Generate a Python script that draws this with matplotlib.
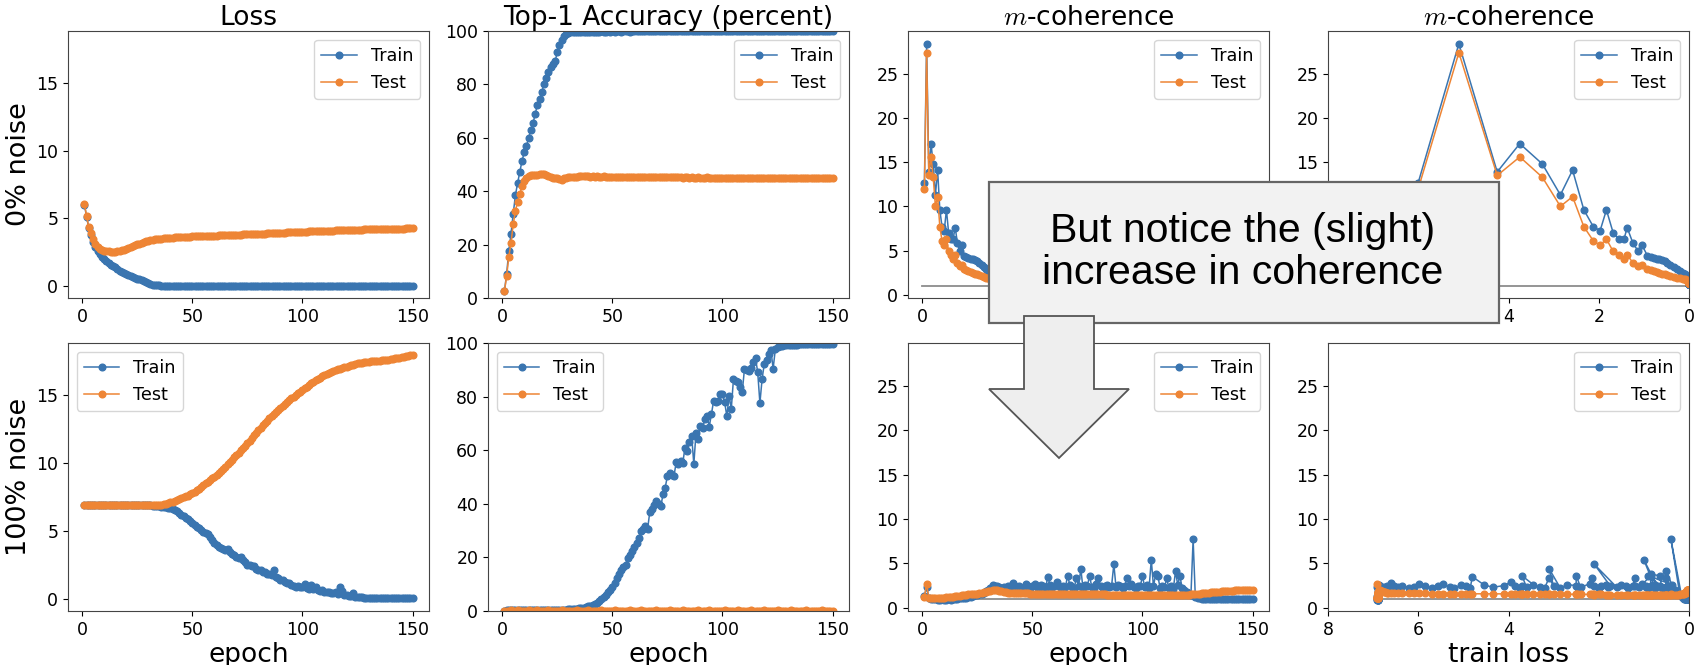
import matplotlib
matplotlib.use("Agg")
import matplotlib.pyplot as plt
from matplotlib.patches import Rectangle, Polygon

# ---------------- data ----------------
EPOCHS = list(range(1, 151))

# 0% label noise
LOSS0_TRAIN = [
    6.0, 5.1, 4.25, 3.75, 3.25, 2.85, 2.58, 2.33, 2.12, 1.97,
    1.83, 1.68, 1.55, 1.44, 1.37, 1.24, 1.12, 1.04, 0.92, 0.85,
    0.78, 0.72, 0.66, 0.6, 0.54, 0.48, 0.41, 0.34, 0.27, 0.2,
    0.14, 0.09, 0.06, 0.04, 0.03, 0.02, 0.02, 0.015, 0.012, 0.01,
    0.01, 0.01, 0.009, 0.009, 0.009, 0.008, 0.008, 0.008, 0.008, 0.007,
    0.007, 0.007, 0.007, 0.007, 0.006, 0.006, 0.006, 0.006, 0.006, 0.006,
    0.006, 0.005, 0.005, 0.005, 0.005, 0.005, 0.005, 0.005, 0.005, 0.005,
    0.005, 0.005, 0.004, 0.004, 0.004, 0.004, 0.004, 0.004, 0.004, 0.004,
    0.004, 0.004, 0.004, 0.004, 0.004, 0.004, 0.004, 0.004, 0.004, 0.004,
    0.004, 0.004, 0.004, 0.004, 0.004, 0.003, 0.003, 0.003, 0.003, 0.003,
    0.003, 0.003, 0.003, 0.003, 0.003, 0.003, 0.003, 0.003, 0.003, 0.003,
    0.003, 0.003, 0.003, 0.003, 0.003, 0.003, 0.003, 0.003, 0.003, 0.003,
    0.003, 0.003, 0.003, 0.003, 0.003, 0.002, 0.002, 0.002, 0.002, 0.002,
    0.002, 0.002, 0.002, 0.002, 0.002, 0.002, 0.002, 0.002, 0.002, 0.002,
    0.002, 0.002, 0.002, 0.002, 0.002, 0.002, 0.002, 0.002, 0.002, 0.002,
]
LOSS0_TEST = [
    6.05, 5.15, 4.35, 3.9, 3.45, 3.1, 2.9, 2.75, 2.65, 2.6,
    2.56, 2.54, 2.53, 2.52, 2.53, 2.55, 2.58, 2.62, 2.67, 2.72,
    2.78, 2.85, 2.92, 2.99, 3.06, 3.13, 3.19, 3.25, 3.3, 3.34,
    3.38, 3.41, 3.44, 3.46, 3.48, 3.5, 3.52, 3.53, 3.55, 3.56,
    3.57, 3.58, 3.59, 3.6, 3.61, 3.62, 3.62, 3.63, 3.64, 3.65,
    3.65, 3.66, 3.67, 3.67, 3.68, 3.69, 3.69, 3.7, 3.71, 3.71,
    3.72, 3.73, 3.73, 3.74, 3.75, 3.75, 3.76, 3.77, 3.77, 3.78,
    3.79, 3.79, 3.8, 3.81, 3.82, 3.82, 3.83, 3.84, 3.84, 3.85,
    3.86, 3.87, 3.87, 3.88, 3.89, 3.9, 3.9, 3.91, 3.92, 3.93,
    3.93, 3.94, 3.95, 3.96, 3.96, 3.97, 3.98, 3.99, 3.99, 4.0,
    4.01, 4.01, 4.02, 4.03, 4.03, 4.04, 4.05, 4.05, 4.06, 4.07,
    4.07, 4.08, 4.08, 4.09, 4.1, 4.1, 4.11, 4.11, 4.12, 4.13,
    4.13, 4.14, 4.14, 4.15, 4.15, 4.16, 4.16, 4.17, 4.17, 4.18,
    4.18, 4.19, 4.19, 4.2, 4.2, 4.2, 4.21, 4.21, 4.22, 4.22,
    4.22, 4.23, 4.23, 4.23, 4.24, 4.24, 4.25, 4.25, 4.25, 4.26,
]
ACC0_TRAIN = [
    2.5, 8.9, 17.6, 24.1, 31.6, 38.5, 43.1, 47.2, 51.4, 54.5,
    56.9, 60.0, 62.9, 65.4, 69.1, 72.3, 74.4, 77.3, 80.1, 82.3,
    84.8, 86.6, 87.8, 88.6, 92.0, 94.8, 96.7, 98.2, 99.0, 99.4,
    99.6, 99.7, 99.7, 99.8, 99.8, 99.8, 99.8, 99.8, 99.8, 99.8,
    99.8, 99.8, 99.8, 99.8, 99.9, 99.8, 99.8, 99.9, 99.8, 99.9,
    99.8, 99.9, 99.9, 99.8, 99.9, 99.9, 99.9, 99.8, 99.9, 99.9,
    99.9, 99.9, 99.9, 99.9, 99.9, 99.9, 99.9, 99.9, 99.9, 99.9,
    99.9, 99.9, 99.9, 99.9, 99.9, 99.9, 99.9, 99.9, 99.9, 99.9,
    99.9, 99.9, 99.9, 99.9, 99.9, 99.9, 99.9, 99.9, 99.9, 99.9,
    99.9, 99.9, 99.9, 99.9, 99.9, 99.9, 99.9, 99.9, 99.9, 99.9,
    99.9, 99.9, 99.9, 99.9, 99.9, 99.9, 99.9, 99.9, 99.9, 99.9,
    99.9, 99.9, 99.9, 99.9, 99.9, 99.9, 99.9, 99.9, 99.9, 99.9,
    99.9, 99.9, 99.9, 99.9, 99.9, 99.9, 99.9, 99.9, 99.9, 99.9,
    99.9, 99.9, 99.9, 99.9, 99.9, 99.9, 99.9, 99.9, 99.9, 99.9,
    99.9, 99.9, 99.9, 99.9, 99.9, 99.9, 99.9, 99.9, 99.9, 99.9,
]
ACC0_TEST = [
    2.5, 8.2, 15.4, 20.7, 27.6, 32.6, 36.0, 38.8, 42.0, 43.8,
    45.0, 45.7, 46.0, 46.1, 46.2, 46.2, 46.3, 46.4, 46.3, 46.2,
    45.8, 45.3, 44.9, 44.8, 45.0, 44.6, 44.3, 44.9, 45.1, 45.2,
    45.3, 45.4, 45.5, 45.5, 45.6, 45.6, 45.6, 45.6, 45.6, 45.5,
    45.6, 45.5, 45.6, 45.5, 45.5, 45.6, 45.5, 45.5, 45.4, 45.5,
    45.5, 45.4, 45.5, 45.5, 45.4, 45.4, 45.5, 45.4, 45.4, 45.3,
    45.4, 45.4, 45.3, 45.4, 45.3, 45.3, 45.4, 45.3, 45.3, 45.3,
    45.2, 45.3, 45.3, 45.2, 45.3, 45.2, 45.2, 45.3, 45.2, 45.2,
    45.2, 45.1, 45.2, 45.2, 45.1, 45.2, 45.1, 45.1, 45.2, 45.1,
    45.1, 45.1, 45.2, 45.1, 45.0, 45.1, 45.1, 45.0, 45.1, 45.1,
    45.0, 45.1, 45.0, 45.0, 45.1, 45.0, 45.0, 44.9, 45.0, 45.0,
    45.0, 44.9, 45.0, 45.0, 44.9, 45.0, 44.9, 44.9, 45.0, 44.9,
    44.9, 45.0, 44.9, 44.9, 44.9, 45.0, 44.9, 44.9, 44.8, 44.9,
    44.9, 44.9, 44.8, 44.9, 44.9, 44.8, 44.9, 44.9, 44.8, 44.9,
    44.8, 44.9, 44.8, 44.8, 44.9, 44.8, 44.8, 44.9, 44.8, 44.8,
]
COH0_TRAIN = [
    12.7, 28.4, 13.9, 17.1, 14.8, 11.3, 14.1, 9.6, 7.7, 7.25,
    9.6, 7.0, 6.3, 6.3, 7.6, 5.8, 4.9, 5.6, 4.4, 4.3,
    4.2, 4.1, 4.0, 3.9, 3.8, 3.6, 3.4, 3.1, 2.9, 2.7,
    2.5, 2.3, 2.1, 2.0, 1.9, 1.8, 1.75, 1.7, 1.65, 1.6,
    1.55, 1.5, 1.5, 1.45, 1.45, 1.4, 1.4, 1.4, 1.35, 1.35,
    1.35, 1.35, 1.34, 1.34, 1.34, 1.33, 1.33, 1.33, 1.32, 1.32,
    1.32, 1.31, 1.31, 1.31, 1.3, 1.3, 1.3, 1.3, 1.29, 1.29,
    1.29, 1.29, 1.28, 1.28, 1.28, 1.28, 1.27, 1.27, 1.27, 1.27,
    1.26, 1.26, 1.26, 1.26, 1.25, 1.25, 1.25, 1.25, 1.25, 1.24,
    1.24, 1.24, 1.24, 1.24, 1.23, 1.23, 1.23, 1.23, 1.23, 1.23,
    1.22, 1.22, 1.22, 1.22, 1.22, 1.22, 1.21, 1.21, 1.21, 1.21,
    1.21, 1.21, 1.21, 1.2, 1.2, 1.2, 1.2, 1.2, 1.2, 1.2,
    1.2, 1.2, 1.19, 1.19, 1.19, 1.19, 1.19, 1.19, 1.19, 1.19,
    1.19, 1.19, 1.18, 1.18, 1.18, 1.18, 1.18, 1.18, 1.18, 1.18,
    1.18, 1.18, 1.18, 1.18, 1.18, 1.18, 1.18, 1.18, 1.18, 1.18,
]
COH0_TEST = [
    12.0, 27.4, 13.5, 15.6, 13.3, 10.0, 11.1, 7.7, 6.1, 5.6,
    6.3, 4.9, 4.5, 4.0, 4.5, 3.6, 3.2, 3.4, 2.9, 2.8,
    2.7, 2.6, 2.5, 2.4, 2.3, 2.2, 2.1, 2.0, 1.9, 1.85,
    1.8, 1.75, 1.7, 1.65, 1.6, 1.55, 1.5, 1.5, 1.45, 1.45,
    1.4, 1.4, 1.4, 1.35, 1.35, 1.35, 1.3, 1.3, 1.3, 1.3,
    1.3, 1.3, 1.3, 1.3, 1.3, 1.3, 1.3, 1.3, 1.3, 1.3,
    1.3, 1.3, 1.3, 1.3, 1.3, 1.3, 1.3, 1.3, 1.3, 1.3,
    1.3, 1.3, 1.3, 1.3, 1.3, 1.3, 1.3, 1.3, 1.3, 1.3,
    1.31, 1.31, 1.31, 1.31, 1.31, 1.31, 1.31, 1.31, 1.31, 1.31,
    1.32, 1.32, 1.32, 1.32, 1.32, 1.32, 1.32, 1.32, 1.32, 1.32,
    1.33, 1.33, 1.33, 1.33, 1.33, 1.33, 1.33, 1.33, 1.33, 1.33,
    1.34, 1.34, 1.34, 1.34, 1.34, 1.34, 1.34, 1.34, 1.34, 1.34,
    1.35, 1.35, 1.35, 1.35, 1.35, 1.35, 1.35, 1.35, 1.35, 1.35,
    1.35, 1.35, 1.35, 1.35, 1.35, 1.35, 1.35, 1.35, 1.35, 1.35,
    1.35, 1.35, 1.35, 1.35, 1.35, 1.35, 1.35, 1.35, 1.35, 1.35,
]

# 100% label noise
LOSS100_TRAIN = [
    6.91, 6.91, 6.91, 6.9, 6.91, 6.9, 6.9, 6.91, 6.9, 6.9,
    6.9, 6.9, 6.9, 6.9, 6.9, 6.9, 6.9, 6.9, 6.9, 6.9,
    6.9, 6.9, 6.9, 6.9, 6.9, 6.89, 6.89, 6.89, 6.89, 6.88,
    6.88, 6.87, 6.86, 6.85, 6.83, 6.8, 6.77, 6.74, 6.7, 6.66,
    6.6, 6.53, 6.45, 6.35, 6.2, 6.1, 5.98, 5.85, 5.7, 5.56,
    5.45, 5.3, 5.2, 5.05, 4.94, 4.85, 4.8, 4.55, 4.35, 4.1,
    3.95, 3.85, 3.75, 3.7, 3.6, 3.7, 3.45, 3.3, 3.2, 3.1,
    3.0, 3.1, 2.85, 2.7, 2.5, 2.5, 2.4, 2.45, 2.2, 2.15,
    2.1, 2.0, 1.95, 1.85, 1.8, 1.75, 2.1, 1.6, 1.5, 1.4,
    1.35, 1.25, 1.2, 1.2, 1.05, 0.95, 0.9, 0.95, 0.85, 0.85,
    1.1, 0.8, 0.75, 1.0, 0.7, 0.85, 0.65, 0.6, 0.65, 0.52,
    0.5, 0.5, 0.45, 0.42, 0.5, 0.38, 0.9, 0.55, 0.3, 0.27,
    0.22, 0.2, 0.4, 0.16, 0.14, 0.12, 0.1, 0.09, 0.08, 0.07,
    0.065, 0.06, 0.055, 0.05, 0.05, 0.045, 0.045, 0.04, 0.04, 0.04,
    0.035, 0.035, 0.035, 0.03, 0.03, 0.03, 0.03, 0.03, 0.03, 0.03,
]
LOSS100_TEST = [
    6.92, 6.91, 6.91, 6.91, 6.91, 6.91, 6.91, 6.91, 6.91, 6.91,
    6.91, 6.91, 6.91, 6.91, 6.91, 6.91, 6.91, 6.91, 6.91, 6.91,
    6.91, 6.91, 6.91, 6.91, 6.91, 6.91, 6.91, 6.91, 6.91, 6.91,
    6.91, 6.91, 6.91, 6.91, 6.92, 6.93, 6.96, 7.0, 7.05, 7.1,
    7.15, 7.2, 7.27, 7.33, 7.4, 7.47, 7.54, 7.61, 7.69, 7.77,
    7.88, 7.99, 8.1, 8.24, 8.38, 8.5, 8.62, 8.75, 8.88, 9.0,
    9.15, 9.3, 9.45, 9.6, 9.74, 9.91, 10.08, 10.25, 10.42, 10.6,
    10.77, 10.94, 11.11, 11.28, 11.46, 11.65, 11.85, 12.05, 12.25, 12.44,
    12.61, 12.78, 12.95, 13.12, 13.3, 13.45, 13.6, 13.75, 13.9, 14.04,
    14.19, 14.34, 14.49, 14.64, 14.78, 14.9, 15.02, 15.15, 15.27, 15.39,
    15.51, 15.63, 15.76, 15.88, 16.0, 16.1, 16.2, 16.3, 16.4, 16.5,
    16.57, 16.65, 16.72, 16.8, 16.87, 16.92, 16.97, 17.01, 17.06, 17.11,
    17.16, 17.21, 17.26, 17.31, 17.36, 17.38, 17.41, 17.43, 17.46, 17.48,
    17.5, 17.51, 17.53, 17.54, 17.56, 17.58, 17.6, 17.61, 17.63, 17.65,
    17.68, 17.71, 17.74, 17.77, 17.8, 17.83, 17.86, 17.9, 17.93, 17.97,
]
ACC100_TRAIN = [
    0.1, 0.2, 0.2, 0.2, 0.2, 0.2, 0.3, 0.2, 0.3, 0.3,
    0.3, 0.3, 0.3, 0.3, 0.3, 0.3, 0.3, 0.4, 0.3, 0.4,
    0.4, 0.4, 0.4, 0.4, 0.4, 0.5, 0.5, 0.5, 0.5, 0.6,
    0.6, 0.7, 0.8, 0.9, 1.0, 1.1, 1.3, 1.5, 1.7, 1.9,
    2.2, 2.5, 2.9, 3.6, 4.4, 5.2, 6.0, 7.0, 8.0, 9.1,
    10.6, 12.3, 13.8, 15.4, 16.3, 17.3, 19.8, 21.0, 22.3, 24.0,
    25.5, 27.3, 29.8, 30.5, 31.6, 30.6, 36.9, 37.9, 39.5, 41.0,
    40.0, 39.0, 43.5, 46.0, 50.4, 51.6, 50.6, 50.4, 55.6, 54.8,
    56.0, 55.4, 61.0, 59.8, 62.9, 65.4, 54.8, 66.6, 64.1, 69.1,
    68.1, 71.6, 72.9, 68.8, 73.5, 78.5, 77.9, 78.5, 81.0, 81.0,
    77.9, 72.6, 80.4, 75.4, 86.6, 86.0, 85.4, 83.5, 81.9, 90.4,
    89.8, 89.4, 90.6, 92.9, 94.4, 89.1, 77.6, 86.6, 92.3, 93.5,
    96.0, 97.3, 90.4, 97.6, 98.5, 98.8, 99.0, 99.1, 99.2, 99.3,
    99.3, 99.4, 99.4, 99.4, 99.5, 99.5, 99.5, 99.5, 99.5, 99.5,
    99.5, 99.6, 99.6, 99.6, 99.6, 99.6, 99.6, 99.6, 99.6, 99.6,
]
ACC100_TEST = [
    0.1, 0.1, 0.1, 0.2, 0.1, 0.1, 0.2, 0.1, 0.1, 0.1,
    0.1, 0.2, 0.1, 0.1, 0.1, 0.2, 0.1, 0.1, 0.1, 0.1,
    0.2, 0.1, 0.1, 0.1, 0.1, 0.1, 0.2, 0.1, 0.1, 0.1,
    0.1, 0.1, 0.1, 0.2, 0.1, 0.1, 0.1, 0.1, 0.2, 0.1,
    0.1, 0.1, 0.1, 0.1, 0.2, 0.1, 0.1, 0.1, 0.1, 0.1,
    0.2, 0.1, 0.1, 0.1, 0.1, 0.1, 0.1, 0.2, 0.1, 0.1,
    0.1, 0.1, 0.2, 0.1, 0.1, 0.1, 0.1, 0.1, 0.1, 0.2,
    0.1, 0.1, 0.1, 0.1, 0.1, 0.2, 0.1, 0.1, 0.1, 0.1,
    0.1, 0.2, 0.1, 0.1, 0.1, 0.1, 0.1, 0.1, 0.2, 0.1,
    0.1, 0.1, 0.1, 0.2, 0.1, 0.1, 0.1, 0.1, 0.1, 0.1,
    0.2, 0.1, 0.1, 0.1, 0.1, 0.1, 0.2, 0.1, 0.1, 0.1,
    0.1, 0.1, 0.2, 0.1, 0.1, 0.1, 0.1, 0.1, 0.2, 0.1,
    0.1, 0.1, 0.1, 0.1, 0.2, 0.1, 0.1, 0.1, 0.1, 0.1,
    0.2, 0.1, 0.1, 0.1, 0.1, 0.1, 0.1, 0.2, 0.1, 0.1,
    0.1, 0.1, 0.1, 0.1, 0.2, 0.1, 0.1, 0.1, 0.1, 0.1,
]
COH100_TRAIN = [
    1.3, 2.3, 1.1, 1.0, 0.95, 0.95, 0.9, 0.9, 0.95, 0.9,
    0.9, 0.95, 0.9, 0.95, 1.0, 1.0, 1.05, 1.1, 1.1, 1.15,
    1.2, 1.25, 1.3, 1.4, 1.45, 1.5, 1.6, 1.7, 1.85, 2.0,
    2.2, 2.6, 2.5, 2.4, 2.3, 2.2, 2.3, 2.1, 2.4, 2.3,
    2.8, 2.4, 2.3, 2.5, 2.2, 2.3, 2.7, 2.4, 2.2, 2.5,
    2.7, 2.3, 2.2, 2.6, 2.4, 2.2, 3.5, 2.6, 2.3, 2.5,
    2.9, 2.4, 2.2, 2.5, 2.3, 3.6, 2.6, 2.3, 2.2, 3.4,
    2.4, 4.4, 2.2, 2.6, 2.5, 3.6, 2.3, 2.2, 2.7, 3.3,
    2.5, 2.2, 2.4, 2.6, 2.3, 2.5, 4.9, 2.3, 2.6, 2.4,
    2.2, 2.5, 3.3, 2.4, 2.7, 2.3, 2.2, 2.5, 2.4, 3.6,
    2.3, 2.6, 2.2, 5.4, 2.4, 3.8, 3.6, 2.2, 2.5, 2.3,
    3.3, 2.2, 2.4, 2.1, 4.1, 2.6, 3.6, 2.2, 2.0, 1.8,
    1.6, 1.4, 7.7, 1.2, 1.1, 1.05, 1.0, 1.0, 1.0, 1.0,
    1.0, 0.99, 1.0, 0.99, 1.0, 0.99, 1.0, 0.99, 1.0, 0.99,
    1.0, 0.99, 1.0, 0.99, 1.0, 0.99, 1.0, 0.99, 1.0, 1.0,
]
COH100_TEST = [
    1.2, 2.7, 1.1, 1.05, 1.05, 1.1, 1.1, 1.1, 1.15, 1.15,
    1.2, 1.2, 1.25, 1.25, 1.3, 1.3, 1.35, 1.4, 1.4, 1.45,
    1.5, 1.5, 1.55, 1.6, 1.6, 1.65, 1.7, 1.75, 1.8, 1.85,
    1.9, 1.95, 2.0, 1.95, 1.9, 1.85, 1.8, 1.75, 1.7, 1.7,
    1.68, 1.66, 1.65, 1.64, 1.63, 1.62, 1.62, 1.61, 1.6, 1.6,
    1.6, 1.59, 1.59, 1.58, 1.58, 1.57, 1.57, 1.57, 1.56, 1.56,
    1.56, 1.55, 1.55, 1.55, 1.54, 1.54, 1.54, 1.53, 1.53, 1.53,
    1.52, 1.52, 1.52, 1.52, 1.51, 1.51, 1.51, 1.51, 1.5, 1.5,
    1.5, 1.5, 1.5, 1.49, 1.49, 1.49, 1.49, 1.49, 1.48, 1.48,
    1.48, 1.48, 1.48, 1.47, 1.47, 1.47, 1.47, 1.47, 1.46, 1.46,
    1.46, 1.46, 1.46, 1.46, 1.45, 1.45, 1.45, 1.45, 1.45, 1.45,
    1.45, 1.45, 1.44, 1.44, 1.44, 1.44, 1.44, 1.44, 1.44, 1.44,
    1.45, 1.5, 1.5, 1.55, 1.55, 1.6, 1.62, 1.65, 1.68, 1.7,
    1.72, 1.75, 1.77, 1.8, 1.82, 1.84, 1.86, 1.88, 1.9, 1.92,
    1.93, 1.95, 1.96, 1.97, 1.98, 1.99, 2.0, 2.0, 2.01, 2.02,
]

COL_TITLES = ["Loss", "Top-1 Accuracy (percent)", "$m$-coherence", "$m$-coherence"]
ROW_LABELS = ["0% noise", "100% noise"]
COH_REF = 1.0  # horizontal reference line on the coherence plots

BLUE = "#3a75b0"
ORANGE = "#ee8535"

plt.rcParams.update({
    "font.family": "DejaVu Sans",
    "mathtext.fontset": "cm",
    "xtick.labelsize": 12.5,
    "ytick.labelsize": 12.5,
    "legend.fontsize": 12.7,
    "axes.edgecolor": "#444444",
})

W, H = 1694, 665
fig = plt.figure(figsize=(W / 100, H / 100), dpi=100)

lefts = [68, 488, 908, 1328]
rows = [(31, 298), (343, 611)]  # top / bottom edge in pixels


def make_ax(col, row):
    top, bot = rows[row]
    return fig.add_axes([lefts[col] / W, (H - bot) / H, 361 / W, (bot - top) / H])


def series(ax, x, ytr, yte, loc):
    ax.plot(x, ytr, "-o", color=BLUE, ms=4.8, lw=1.1, label="Train")
    ax.plot(x, yte, "-o", color=ORANGE, ms=4.8, lw=1.1, label="Test")
    ax.legend(loc=loc)


data = [
    (LOSS0_TRAIN, LOSS0_TEST, ACC0_TRAIN, ACC0_TEST, COH0_TRAIN, COH0_TEST),
    (LOSS100_TRAIN, LOSS100_TEST, ACC100_TRAIN, ACC100_TEST, COH100_TRAIN, COH100_TEST),
]

for r, (ltr, lte, atr, ate, ctr, cte) in enumerate(data):
    left_loc = "upper right" if r == 0 else "upper left"

    ax1 = make_ax(0, r)
    series(ax1, EPOCHS, ltr, lte, left_loc)
    ax1.set_ylim(-0.9, 18.85)
    ax1.set_yticks([0, 5, 10, 15])

    ax2 = make_ax(1, r)
    series(ax2, EPOCHS, atr, ate, left_loc)
    ax2.set_ylim(0, 100)
    ax2.set_yticks([0, 20, 40, 60, 80, 100])

    ax3 = make_ax(2, r)
    ax3.plot([0, EPOCHS[-1]], [COH_REF, COH_REF], color="#8c8c8c", lw=1.3)
    series(ax3, EPOCHS, ctr, cte, "upper right")
    ax3.set_ylim(-0.37, 29.85)
    ax3.set_yticks([0, 5, 10, 15, 20, 25])

    ax4 = make_ax(3, r)
    ax4.plot([max(ltr), min(ltr)], [COH_REF, COH_REF], color="#8c8c8c", lw=1.3)
    series(ax4, ltr, ctr, cte, "upper right")
    ax4.set_ylim(-0.37, 29.85)
    ax4.set_yticks([0, 5, 10, 15, 20, 25])
    ax4.set_xlim(8, 0)
    ax4.set_xticks([8, 6, 4, 2, 0])

    for a in (ax1, ax2, ax3):
        a.set_xlim(-6.45, 157.45)
        a.set_xticks([0, 50, 100, 150])

    for c, a in enumerate((ax1, ax2, ax3, ax4)):
        if r == 0:
            a.set_title(COL_TITLES[c], fontsize=19, pad=4)
        else:
            a.set_xlabel("train loss" if c == 3 else "epoch", fontsize=19, labelpad=2)

    if r == 0:
        # tick labels that sit fully under the callout box
        ax3.set_xticklabels(["0", "", "", ""])
        ax4.set_xticklabels(["", "", "4", "2", "0"])
        ax4.set_yticklabels(["", "", "", "15", "20", "25"])

    top, bot = rows[r]
    fig.text(19 / W, 1 - (top + bot) / 2 / H, ROW_LABELS[r], rotation=90,
             fontsize=19.5, ha="center", va="center")

# ---- callout box with arrow ----
def px(x, y):
    return (x / W, 1 - y / H)

box = Rectangle(px(989, 323), (1499 - 989) / W, (323 - 182) / H,
                transform=fig.transFigure, facecolor="#f2f2f2",
                edgecolor="#666666", lw=1.6, zorder=10)
fig.add_artist(box)

arrow_pts = [px(1024, 316), px(1094, 316), px(1094, 389), px(1129, 389),
             px(1059, 458), px(989, 389), px(1024, 389)]
arrow = Polygon(arrow_pts, closed=True, transform=fig.transFigure,
                facecolor="#eeeeee", edgecolor="#555555", lw=1.3, zorder=11)
fig.add_artist(arrow)

fig.text(1243 / W, 1 - 252 / H, "But notice the (slight)\nincrease in coherence",
         family="Liberation Sans", fontsize=29.5, ha="center", va="center",
         linespacing=1.12, zorder=12)

fig.savefig("out.png", dpi=100)
